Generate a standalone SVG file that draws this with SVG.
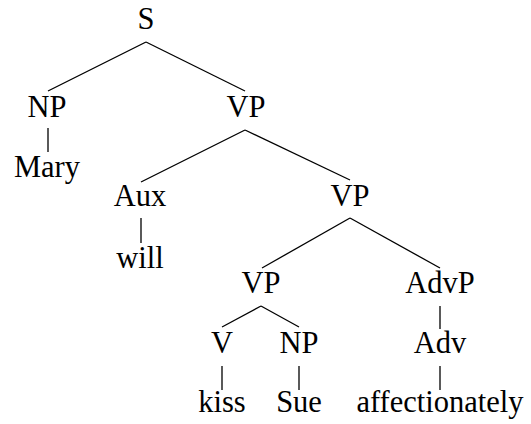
<svg xmlns="http://www.w3.org/2000/svg" width="531" height="424" viewBox="0 0 531 424">
<style>
line{stroke:#000;stroke-width:1.3;fill:none}
</style>
<rect width="531" height="424" fill="#fff"/>
<g id="connectors">
<line x1="146" y1="42" x2="48" y2="91"/>
<line x1="146" y1="42" x2="245" y2="91"/>
<line x1="48" y1="128" x2="48" y2="152"/>
<line x1="245" y1="130" x2="141" y2="182"/>
<line x1="245" y1="130" x2="350" y2="180"/>
<line x1="141" y1="218" x2="141" y2="243"/>
<line x1="350" y1="218" x2="262" y2="268"/>
<line x1="350" y1="218" x2="440" y2="268"/>
<line x1="261" y1="306" x2="222" y2="327"/>
<line x1="261" y1="306" x2="299" y2="327"/>
<line x1="440" y1="306" x2="440" y2="329"/>
<line x1="222" y1="366" x2="222" y2="390"/>
<line x1="299" y1="366" x2="299" y2="390"/>
<line x1="440" y1="366" x2="440" y2="390"/>
</g>
<g id="n-S"><text x="146" y="29" font-family="Liberation Serif" font-size="30.5" text-anchor="middle">S</text></g>
<g id="n-NP1"><text x="47" y="117" font-family="Liberation Serif" font-size="30.5" text-anchor="middle">NP</text></g>
<g id="n-Mary"><text x="47" y="177" font-family="Liberation Serif" font-size="30.5" text-anchor="middle">Mary</text></g>
<g id="n-VP1"><text x="246" y="117" font-family="Liberation Serif" font-size="30.5" text-anchor="middle">VP</text></g>
<g id="n-Aux"><text x="140" y="206" font-family="Liberation Serif" font-size="30.5" text-anchor="middle">Aux</text></g>
<g id="n-will"><text x="140" y="268" font-family="Liberation Serif" font-size="30.5" text-anchor="middle">will</text></g>
<g id="n-VP2"><text x="350" y="206" font-family="Liberation Serif" font-size="30.5" text-anchor="middle">VP</text></g>
<g id="n-VP3"><text x="261" y="293" font-family="Liberation Serif" font-size="30.5" text-anchor="middle">VP</text></g>
<g id="n-AdvP"><text x="440" y="293" font-family="Liberation Serif" font-size="30.5" text-anchor="middle">AdvP</text></g>
<g id="n-V"><text x="222" y="353" font-family="Liberation Serif" font-size="30.5" text-anchor="middle">V</text></g>
<g id="n-NP2"><text x="299" y="353" font-family="Liberation Serif" font-size="30.5" text-anchor="middle">NP</text></g>
<g id="n-Adv"><text x="440" y="353" font-family="Liberation Serif" font-size="30.5" text-anchor="middle">Adv</text></g>
<g id="n-kiss"><text x="222" y="412" font-family="Liberation Serif" font-size="30.5" text-anchor="middle">kiss</text></g>
<g id="n-Sue"><text x="299" y="412" font-family="Liberation Serif" font-size="30.5" text-anchor="middle">Sue</text></g>
<g id="n-affectionately"><text x="440" y="412" font-family="Liberation Serif" font-size="30.5" text-anchor="middle">affectionately</text></g>
</svg>
